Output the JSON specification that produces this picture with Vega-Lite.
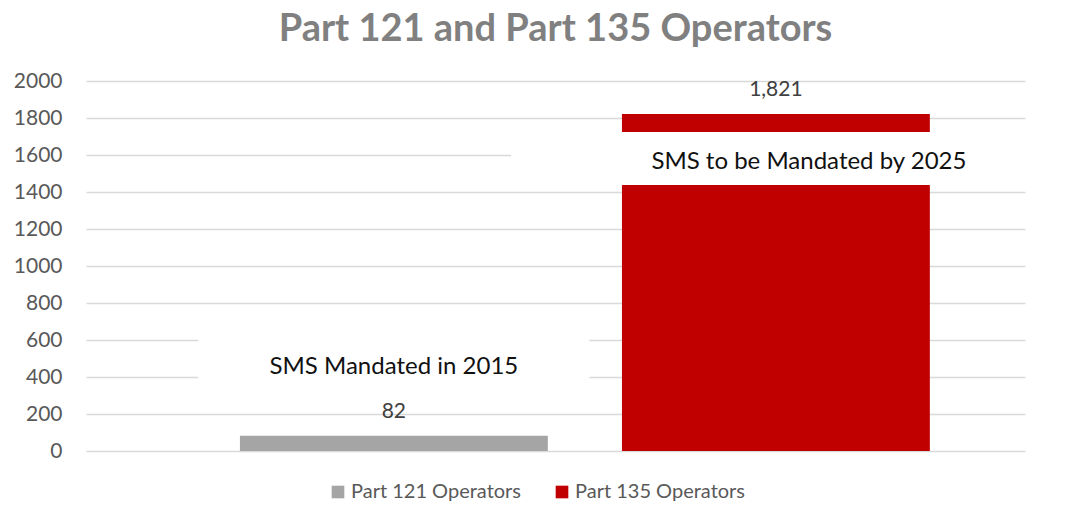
{
  "$schema": "https://vega.github.io/schema/vega-lite/v6.json",
  "autosize": {"type": "none"},
  "width": 939,
  "height": 370,
  "padding": {"left": 86, "top": 81, "right": 51, "bottom": 63},
  "background": "white",
  "config": {
    "font": "Lato",
    "view": {"stroke": null}
  },
  "title": {
    "text": "Part 121 and Part 135 Operators",
    "font": "Lato",
    "fontSize": 38,
    "fontWeight": "bold",
    "color": "#808080",
    "anchor": "middle",
    "offset": 21
  },
  "datasets": {
    "bars": [
      {"series": "Part 121 Operators", "value": 82, "label": "82"},
      {"series": "Part 135 Operators", "value": 1821, "label": "1,821"}
    ],
    "notes": [
      {"series": "Part 121 Operators", "note": "SMS Mandated in 2015", "mid": 455, "lo": 300, "hi": 640, "span": 1.27},
      {"series": "Part 135 Operators", "note": "SMS to be Mandated by 2025", "mid": 1560, "lo": 1438, "hi": 1724, "span": 1.72}
    ]
  },
  "layer": [
    {
      "data": {"name": "bars"},
      "mark": {"type": "bar", "cornerRadius": 0},
      "encoding": {
        "x": {
          "field": "series", "type": "nominal",
          "scale": {"domain": ["Part 121 Operators", "Part 135 Operators"], "paddingInner": 0.194, "paddingOuter": 0.326, "align": 0.618},
          "axis": null
        },
        "y": {
          "field": "value", "type": "quantitative",
          "scale": {"domain": [0, 2000], "nice": false},
          "axis": {
            "values": [0, 200, 400, 600, 800, 1000, 1200, 1400, 1600, 1800, 2000],
            "tickCount": 11,
            "format": "d",
            "labelOverlap": false,
            "title": null,
            "domain": false,
            "ticks": false,
            "labelPadding": 24,
            "labelFontSize": 21,
            "labelColor": "#595959",
            "labelFont": "Lato",
            "gridColor": "#d9d9d9",
            "gridWidth": 1.3
          }
        },
        "color": {
          "field": "series", "type": "nominal",
          "scale": {"domain": ["Part 121 Operators", "Part 135 Operators"], "range": ["#a5a5a5", "#c00000"]},
          "legend": {
            "orient": "none",
            "legendX": 242,
            "legendY": 401,
            "direction": "horizontal",
            "title": null,
            "symbolType": "square",
            "symbolSize": 160,
            "symbolStrokeWidth": 0,
            "labelFontSize": 20,
            "labelLimit": 0,
            "labelOffset": 3,
            "labelColor": "#595959",
            "labelFont": "Lato",
            "columnPadding": 31
          }
        }
      }
    },
    {
      "data": {"name": "bars"},
      "mark": {"type": "text", "dy": -24, "fontSize": 21, "color": "#404040", "baseline": "middle", "font": "Lato"},
      "encoding": {
        "x": {"field": "series", "type": "nominal"},
        "y": {"field": "value", "type": "quantitative"},
        "text": {"field": "label"}
      }
    },
    {
      "data": {"name": "notes"},
      "mark": {"type": "bar", "color": "white"},
      "encoding": {
        "x": {"field": "series", "type": "nominal"},
        "y": {"field": "lo", "type": "quantitative"},
        "y2": {"field": "hi"},
        "size": {"field": "span", "type": "quantitative", "legend": null, "scale": {"type": "linear", "domain": [1, 2], "range": [308, 616]}}
      }
    },
    {
      "data": {"name": "notes"},
      "transform": [{"filter": "datum.series === 'Part 121 Operators'"}],
      "mark": {"type": "text", "fontSize": 24, "color": "#111111", "baseline": "middle", "font": "Lato"},
      "encoding": {
        "x": {"field": "series", "type": "nominal"},
        "y": {"field": "mid", "type": "quantitative"},
        "text": {"field": "note"}
      }
    },
    {
      "data": {"name": "notes"},
      "transform": [{"filter": "datum.series === 'Part 135 Operators'"}],
      "mark": {"type": "text", "fontSize": 24, "color": "#111111", "baseline": "middle", "font": "Lato", "dx": 33},
      "encoding": {
        "x": {"field": "series", "type": "nominal"},
        "y": {"field": "mid", "type": "quantitative"},
        "text": {"field": "note"}
      }
    }
  ]
}
